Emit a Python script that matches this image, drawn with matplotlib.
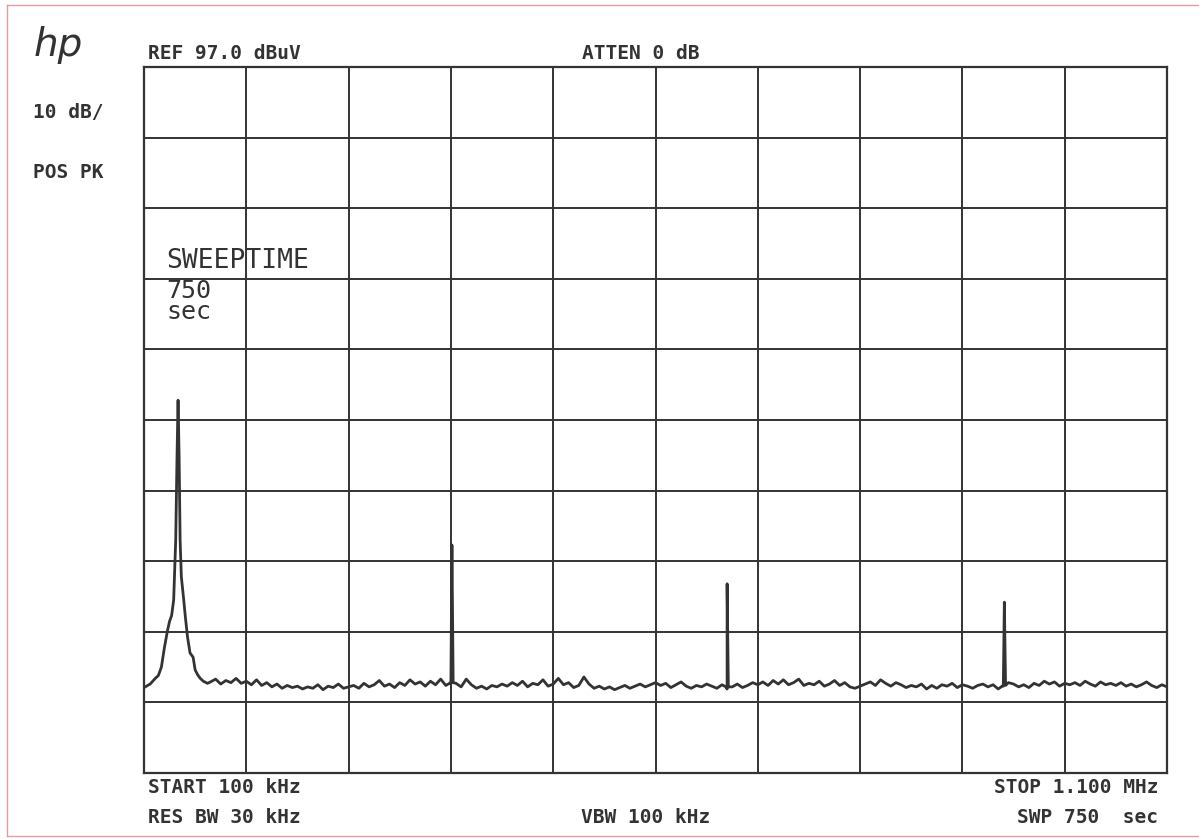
import numpy as np
import matplotlib
matplotlib.use("Agg")
from matplotlib import pyplot as plt
from matplotlib.lines import Line2D

# sweep settings (kHz, dBuV)
start_khz = 100
stop_khz = 1100
ref_level = 97.0
db_per_div = 10

# main carrier shape near 133 kHz
carrier_khz = [100, 106, 111, 114, 117, 120, 123, 125, 127, 129, 131, 132.3, 133.3,
               134.3, 135.3, 136.5, 138.5, 140.5, 142.5, 145, 148, 150, 152.5, 155, 158, 162]
carrier_db = [9.1, 9.6, 10.4, 10.8, 12.0, 14.8, 17.2, 18.5, 19.3, 21.5, 30.0, 42.0, 49.8,
              42.0, 30.0, 24.8, 22.0, 19.0, 16.3, 14.0, 13.4, 11.6, 10.9, 10.4, 10.0, 9.7]

# noise floor, every 5 kHz from 165 to 1100
floor_khz = np.arange(165, 1101, 5)
floor_db = [
    9.9, 10.3, 9.6, 10.1, 9.8, 10.4, 9.7, 10.0,
    9.5, 10.2, 9.4, 9.8, 9.2, 9.6, 9.0, 9.4, 9.1, 9.3,
    8.9, 9.2, 9.0, 9.5, 8.8, 9.3, 9.1, 9.6, 9.0, 9.2,
    9.4, 9.0, 9.7, 9.2, 9.5, 10.1, 9.3, 9.6, 9.1, 9.8,
    9.4, 10.2, 9.6, 9.9, 9.3, 10.0, 9.5, 10.3, 9.4, 9.6,
    9.7, 9.2, 10.3, 9.5, 9.0, 9.3, 8.9, 9.4, 9.2, 9.6,
    9.3, 9.8, 9.4, 10.0, 9.2, 9.7, 9.5, 10.2, 9.3, 9.6,
    10.4, 9.5, 9.8, 9.1, 9.4, 10.6, 9.6, 9.0, 9.3, 8.9,
    9.2, 8.8, 9.1, 9.4, 9.0, 9.3, 9.6, 9.2, 9.5, 9.8,
    9.4, 9.7, 9.1, 9.5, 9.9, 9.3, 9.0, 9.4, 9.2, 9.6,
    9.3, 9.0, 9.5, 8.9, 9.2, 9.6, 9.1, 9.4, 9.8, 9.5,
    9.9, 9.4, 10.1, 9.6, 10.2, 9.5, 9.8, 10.3, 9.4, 9.7,
    9.5, 10.0, 9.3, 9.6, 10.1, 9.4, 9.8, 9.2, 9.0, 9.3,
    9.6, 9.9, 9.4, 10.2, 9.7, 9.3, 9.8, 9.5, 9.1, 9.4,
    9.2, 9.6, 8.9, 9.4, 9.0, 9.5, 9.3, 9.7, 9.1, 9.5,
    9.3, 9.0, 9.4, 9.6, 9.2, 9.5, 8.9, 9.3, 9.8, 9.6,
    9.2, 9.5, 9.1, 9.7, 9.4, 10.0, 9.6, 9.9, 9.3, 9.7,
    9.5, 9.8, 9.4, 10.0, 9.6, 9.3, 9.9, 9.5, 9.7, 9.4,
    9.8, 9.3, 9.6, 9.2, 9.5, 9.9, 9.4, 9.1, 9.5, 9.2,
]

# harmonic spikes
spike_khz = [401, 670, 941]
spike_db = [29.3, 23.8, 21.2]
spike_base_db = [9.8, 9.2, 9.4]

ink = "#333333"

# build one trace, sorted by frequency
f_all = list(carrier_khz) + list(floor_khz)
a_all = list(carrier_db) + list(floor_db)
for f, top, base in zip(spike_khz, spike_db, spike_base_db):
    f_all += [f - 1.2, f, f + 1.2]
    a_all += [base, top, base]
order = np.argsort(f_all, kind="stable")
trace_f = np.array(f_all)[order]
trace_a = np.array(a_all)[order]

W, H = 1199, 839
fig = plt.figure(figsize=(W / 100, H / 100), dpi=100)
fig.patch.set_facecolor("white")

ax = fig.add_axes([144 / W, 1 - 773 / H, 1023 / W, 706 / H])
ax.set_xlim(start_khz, stop_khz)
ax.set_ylim(ref_level - 10 * db_per_div, ref_level)
ax.set_xticks(np.arange(start_khz, stop_khz + 1, 100))
ax.set_yticks(np.arange(ref_level - 10 * db_per_div, ref_level + 0.1, db_per_div))
ax.grid(True, color=ink, lw=1.4)
ax.tick_params(length=0, labelbottom=False, labelleft=False)
for s in ax.spines.values():
    s.set_color(ink)
    s.set_linewidth(1.6)

ax.plot(trace_f, trace_a, color=ink, lw=2.0, solid_joinstyle="round")


def label(x, y, s, size=14, ha="left", weight="bold", **kw):
    fig.text(x / W, 1 - y / H, s, fontsize=size, ha=ha, va="baseline",
             family="DejaVu Sans Mono", color=ink, fontweight=weight, **kw)


fig.text(34 / W, 1 - 56 / H, "hp", fontsize=28, style="italic",
         family="DejaVu Sans", color=ink, va="baseline", fontweight="light")
label(148, 59, "REF 97.0 dBuV")
label(582, 59, "ATTEN 0 dB")
label(33, 118, "10 dB/")
label(33, 178, "POS PK")
label(166, 268, "SWEEPTIME", size=19, weight="normal")
# sweep time value and unit sit tight under the heading
label(166, 319, "750\nsec", size=18, weight="normal", linespacing=0.85)
label(148, 793, "START 100 kHz")
label(148, 823, "RES BW 30 kHz")
label(581, 823, "VBW 100 kHz")
label(1158, 793, "STOP 1.100 MHz", ha="right")
label(1158, 823, "SWP 750  sec", ha="right")

# pink page border
pink = "#e79aa4"
fig.add_artist(Line2D([7 / W, 1.0], [1 - 5 / H, 1 - 5 / H], color=pink, lw=1))
fig.add_artist(Line2D([7 / W, 7 / W], [1 - 5 / H, 1 - 836 / H], color=pink, lw=1))
fig.add_artist(Line2D([7 / W, 1.0], [1 - 836 / H, 1 - 836 / H], color=pink, lw=1))

fig.savefig("out.png", dpi=100)
